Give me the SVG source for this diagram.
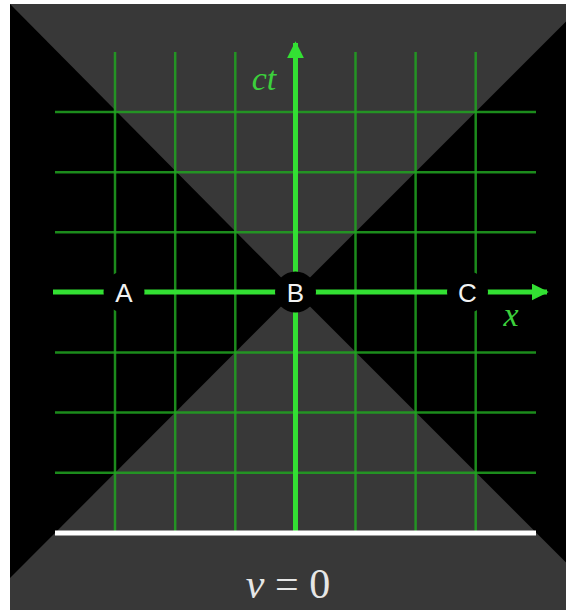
<svg xmlns="http://www.w3.org/2000/svg" width="566" height="610" viewBox="0 0 566 610">
<style>
.grid{stroke:#21a421;stroke-width:2.5;opacity:0.85}
.axis{stroke:#33e033;stroke-width:5;fill:none}
.disc{fill:#000}
.lbl{font-family:"Liberation Sans",Arial,sans-serif;font-size:26px;fill:#f2f2f2;text-anchor:middle}
.math{font-family:"Liberation Serif","DejaVu Serif",serif;font-style:italic;fill:#3cd03c}
</style>
<defs>
<marker id="arr" viewBox="0 0 10 10" refX="9" refY="5" markerWidth="3.4" markerHeight="3.4" orient="auto" markerUnits="strokeWidth">
<path d="M0,0 L10,5 L0,10 Z" fill="#33e033"/>
</marker>
</defs>
<rect x="0" y="0" width="566" height="610" fill="#ffffff"/>
<g id="background">
<rect x="10" y="4" width="556" height="606" fill="#383838"/>
<polygon points="10,4 295.5,292 10,578" fill="#000"/>
<polygon points="566,21.5 295.5,292 566,562.5" fill="#000"/>
</g>
<g id="grid">
<line class="grid" x1="115" y1="52" x2="115" y2="533"/>
<line class="grid" x1="175.2" y1="52" x2="175.2" y2="533"/>
<line class="grid" x1="235.3" y1="52" x2="235.3" y2="533"/>
<line class="grid" x1="355.5" y1="52" x2="355.5" y2="533"/>
<line class="grid" x1="415.6" y1="52" x2="415.6" y2="533"/>
<line class="grid" x1="475.7" y1="52" x2="475.7" y2="533"/>
<line class="grid" x1="55" y1="112" x2="536" y2="112"/>
<line class="grid" x1="55" y1="172.2" x2="536" y2="172.2"/>
<line class="grid" x1="55" y1="232.3" x2="536" y2="232.3"/>
<line class="grid" x1="55" y1="352.5" x2="536" y2="352.5"/>
<line class="grid" x1="55" y1="412.6" x2="536" y2="412.6"/>
<line class="grid" x1="55" y1="472.7" x2="536" y2="472.7"/>
</g>
<g id="connectors">
<line id="ct-axis" class="axis" x1="295.5" y1="533" x2="295.5" y2="43" marker-end="url(#arr)"/>
<line id="x-axis" class="axis" x1="53" y1="292" x2="547" y2="292" marker-end="url(#arr)"/>
<line id="v0-line" x1="55" y1="533" x2="536" y2="533" stroke="#ffffff" stroke-width="5"/>
</g>
<g id="node-A">
<circle class="disc" cx="124" cy="292" r="20.5"/>
<text class="lbl" x="124" y="301.5">A</text>
</g>
<g id="node-B">
<circle class="disc" cx="295.5" cy="292" r="20.5"/>
<text class="lbl" x="295.5" y="301.5">B</text>
</g>
<g id="node-C">
<circle class="disc" cx="467.5" cy="292" r="20.5"/>
<text class="lbl" x="467.5" y="301.5">C</text>
</g>
<g id="labels">
<text class="math" x="264" y="90" font-size="34" text-anchor="middle">ct</text>
<text class="math" x="511" y="326" font-size="34" text-anchor="middle">x</text>
<text x="288" y="598" font-family="Liberation Serif,DejaVu Serif,serif" font-size="42" fill="#e6e6e6" text-anchor="middle"><tspan font-style="italic">v</tspan> = 0</text>
</g>
</svg>
